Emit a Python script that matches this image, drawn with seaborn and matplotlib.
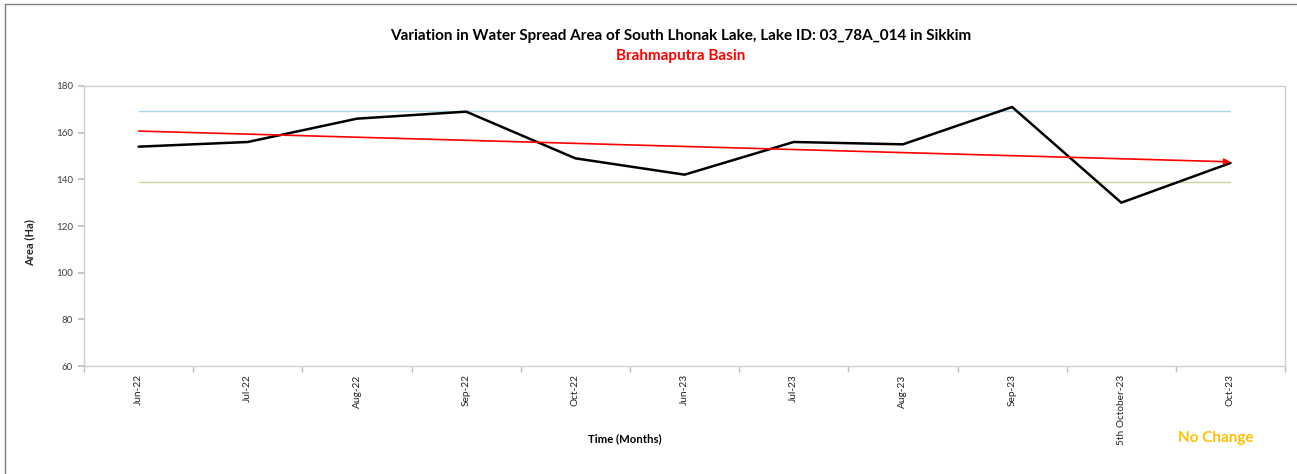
import numpy as np
import pandas as pd
import matplotlib
matplotlib.use("Agg")
import matplotlib.pyplot as plt
import seaborn as sns

# data
months = ["Jun-22", "Jul-22", "Aug-22", "Sep-22", "Oct-22", "Jun-23",
          "Jul-23", "Aug-23", "Sep-23", "5th October-23", "Oct-23"]
area_ha = [154, 156, 166, 169, 149, 142, 156, 155, 171, 130, 147]
upper_limit = [169.3] * len(months)   # light blue band line
lower_limit = [138.7] * len(months)   # green band line
y_ticks = [60, 80, 100, 120, 140, 160, 180]

sns.set_theme(style="white")
plt.rcParams["font.family"] = ["Lato", "DejaVu Sans"]

df = pd.DataFrame({"pos": np.arange(len(months)), "area": area_ha,
                   "upper": upper_limit, "lower": lower_limit})

fig = plt.figure(figsize=(12.97, 4.74), dpi=100)
ax = fig.add_axes([0.0648, 0.2278, 0.926, 0.5908])

sns.lineplot(data=df, x="pos", y="upper", ax=ax, color="#A8D4E8", lw=1.0)
sns.lineplot(data=df, x="pos", y="lower", ax=ax, color="#C4D79B", lw=1.0)

# linear trend (Excel style) with arrow head
coef = np.polyfit(df["pos"], df["area"], 1)
trend = np.polyval(coef, df["pos"])
ax.annotate("", xy=(df["pos"].iloc[-1], trend[-1]), xytext=(df["pos"].iloc[0], trend[0]),
            arrowprops=dict(arrowstyle="-|>", color="#FF0000", lw=1.2,
                            mutation_scale=9, shrinkA=0, shrinkB=0))

sns.lineplot(data=df, x="pos", y="area", ax=ax, color="black", lw=1.8)

ax.set_xlim(-0.5, len(months) - 0.5)
ax.set_ylim(60, 180)
ax.set_yticks(y_ticks)
ax.set_yticklabels([str(t) for t in y_ticks], fontsize=7, color="#404040")
ax.set_xticks(df["pos"])
ax.set_xticklabels(months, rotation=90, fontsize=7.3, color="#222222", va="top")
ax.set_xticks(np.arange(len(months) + 1) - 0.5, minor=True)
ax.tick_params(axis="x", which="major", length=0, pad=6)
ax.tick_params(axis="x", which="minor", length=4, color="#BFBFBF", direction="out", bottom=True)
ax.tick_params(axis="y", length=4, color="#BFBFBF", direction="out", left=True, pad=4)
for s in ax.spines.values():
    s.set_color("#D0D0D0")
    s.set_linewidth(1.0)

ax.set_xlabel("")
ax.set_ylabel("Area (Ha)", fontsize=8, fontweight="bold")
ax.yaxis.set_label_coords(-0.041, 0.44)

fig.text(0.525, 0.925, "Variation in Water Spread Area of South Lhonak Lake, Lake ID: 03_78A_014 in Sikkim",
         ha="center", va="center", fontsize=11, fontweight="bold", color="black")
fig.text(0.525, 0.882, "Brahmaputra Basin", ha="center", va="center",
         fontsize=11, fontweight="bold", color="#FF0000")
fig.text(0.482, 0.075, "Time (Months)", ha="center", va="center",
         fontsize=8.2, fontweight="bold", color="black")
fig.text(0.937, 0.075, "No Change", ha="center", va="center",
         fontsize=11, fontweight="bold", color="#FFC000")

# outer frame (left and top edges visible in the reference)
fig.add_artist(plt.Line2D([0.004, 0.004], [0, 0.992], transform=fig.transFigure, color="#7F7F7F", lw=1))
fig.add_artist(plt.Line2D([0.004, 1.0], [0.992, 0.992], transform=fig.transFigure, color="#7F7F7F", lw=1))

fig.savefig("out.png", dpi=100)
